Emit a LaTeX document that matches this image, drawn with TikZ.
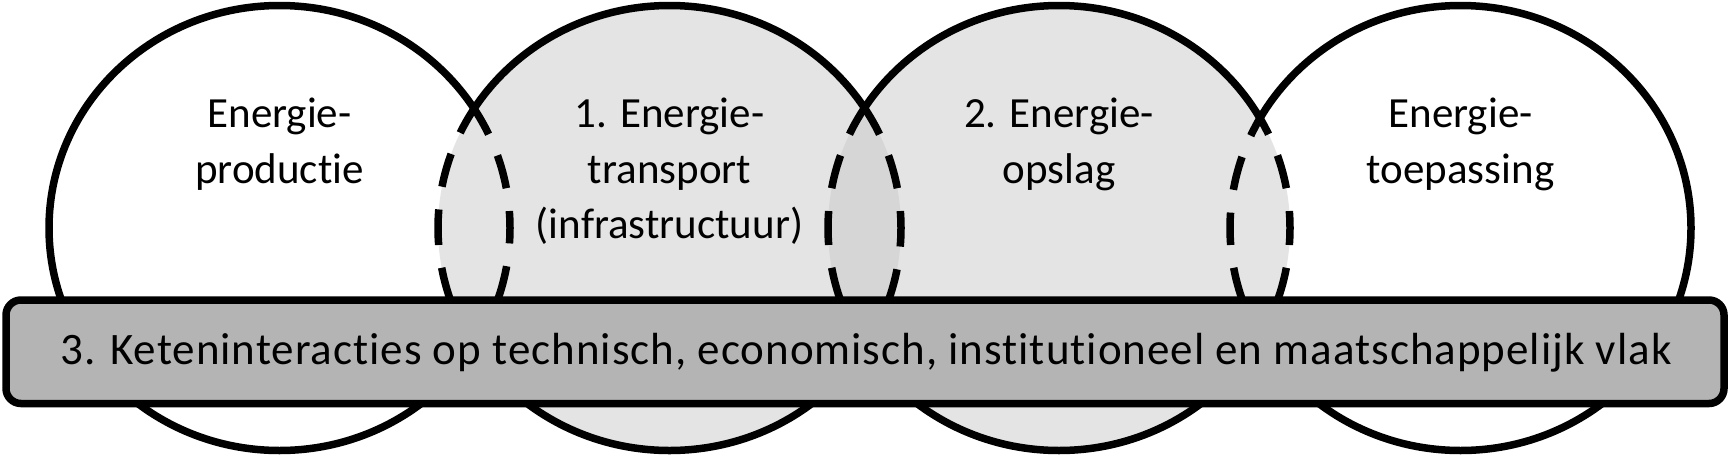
\documentclass[tikz,border=0pt]{standalone}
\usepackage{fontspec}
\setmainfont[Ligatures=NoCommon]{Carlito}
\newfontfamily\barfont[Ligatures=NoCommon, LetterSpace=2.2]{Carlito}
\definecolor{lightfill}{HTML}{E4E4E4}
\definecolor{lensfill}{HTML}{D6D6D6}
\definecolor{barfill}{HTML}{B4B4B4}
\newcommand\pEa{(279.5,228) ellipse [x radius=230.5pt, y radius=222.5pt]}
\newcommand\pEb{(669.5,228) ellipse [x radius=231.5pt, y radius=222.5pt]}
\newcommand\pEc{(1059,228) ellipse [x radius=231pt, y radius=222.5pt]}
\newcommand\pEd{(1460.5,228) ellipse [x radius=230.5pt, y radius=222.5pt]}
\newcommand\pOut{(-20,-20) -- (1751,-20) -- (1751,478) -- (-20,478) -- cycle}
\tikzset{
  ringline/.style={line width=7.5pt, draw=black},
  dashline/.style={line width=7.5pt, draw=black, dash pattern=on 34pt off 23pt, dash phase=17pt},
  labeltext/.style={font=\fontsize{43}{56}\selectfont, anchor=base, inner sep=0pt},
  bartext/.style={font=\barfont\fontsize{45}{56}\selectfont, anchor=base, inner sep=0pt},
  barbox/.style={line width=7.5pt, draw=black, fill=barfill, rounded corners=15pt},
}
\begin{document}
\begin{tikzpicture}[x=1pt,y=-1pt]
\useasboundingbox (0,0) rectangle (1731,458);
% fills
\fill[white] \pEa;
\fill[white] \pEd;
\fill[lightfill] \pEb;
\fill[lightfill] \pEc;
\begin{scope}
  \clip \pEb;
  \fill[lensfill] \pEc;
\end{scope}
% dashed arcs inside neighbours
\begin{scope}
  \clip \pEb;
  \path[dashline] (510,228) arc[start angle=0, end angle=360, x radius=230.5pt, y radius=222.5pt];
\end{scope}
\begin{scope}
  \clip \pEa;
  \path[dashline] (438,228) arc[start angle=180, end angle=540, x radius=231.5pt, y radius=222.5pt];
\end{scope}
\begin{scope}
  \clip \pEc;
  \path[dashline] (901,228) arc[start angle=0, end angle=360, x radius=231.5pt, y radius=222.5pt];
\end{scope}
\begin{scope}
  \clip \pEb;
  \path[dashline] (828,228) arc[start angle=180, end angle=540, x radius=231pt, y radius=222.5pt];
\end{scope}
\begin{scope}
  \clip \pEd;
  \path[dashline] (1290,228) arc[start angle=0, end angle=360, x radius=231pt, y radius=222.5pt];
\end{scope}
\begin{scope}
  \clip \pEc;
  \path[dashline] (1230,228) arc[start angle=180, end angle=540, x radius=230.5pt, y radius=222.5pt];
\end{scope}
% solid outlines outside neighbours
\begin{scope}
  \clip \pEb \pOut;
  \path[ringline] \pEa;
\end{scope}
\begin{scope}
  \clip \pEa \pOut;
  \clip \pEc \pOut;
  \path[ringline] \pEb;
\end{scope}
\begin{scope}
  \clip \pEb \pOut;
  \clip \pEd \pOut;
  \path[ringline] \pEc;
\end{scope}
\begin{scope}
  \clip \pEc \pOut;
  \path[ringline] \pEd;
\end{scope}
% labels
\node[labeltext] (pa1) at (279.5,127) {Energie-};
\node[labeltext] (pa2) at (279.5,183) {productie};
\node[labeltext] (pb1) at (669.5,127) {1. Energie-};
\node[labeltext] (pb2) at (669.5,183) {transport};
\node[labeltext] (pb3) at (669.5,238) {(infrastructuur)};
\node[labeltext] (pc1) at (1059,127) {2. Energie-};
\node[labeltext] (pc2) at (1059,183) {opslag};
\node[labeltext] (pd1) at (1460.5,127) {Energie-};
\node[labeltext] (pd2) at (1460.5,183) {toepassing};
% bar
\path[barbox] (6,300) rectangle (1724,403.5);
\node[bartext] (bar) at (866,364) {3. Keteninteracties op technisch, economisch, institutioneel en maatschappelijk vlak};
\end{tikzpicture}
\end{document}
